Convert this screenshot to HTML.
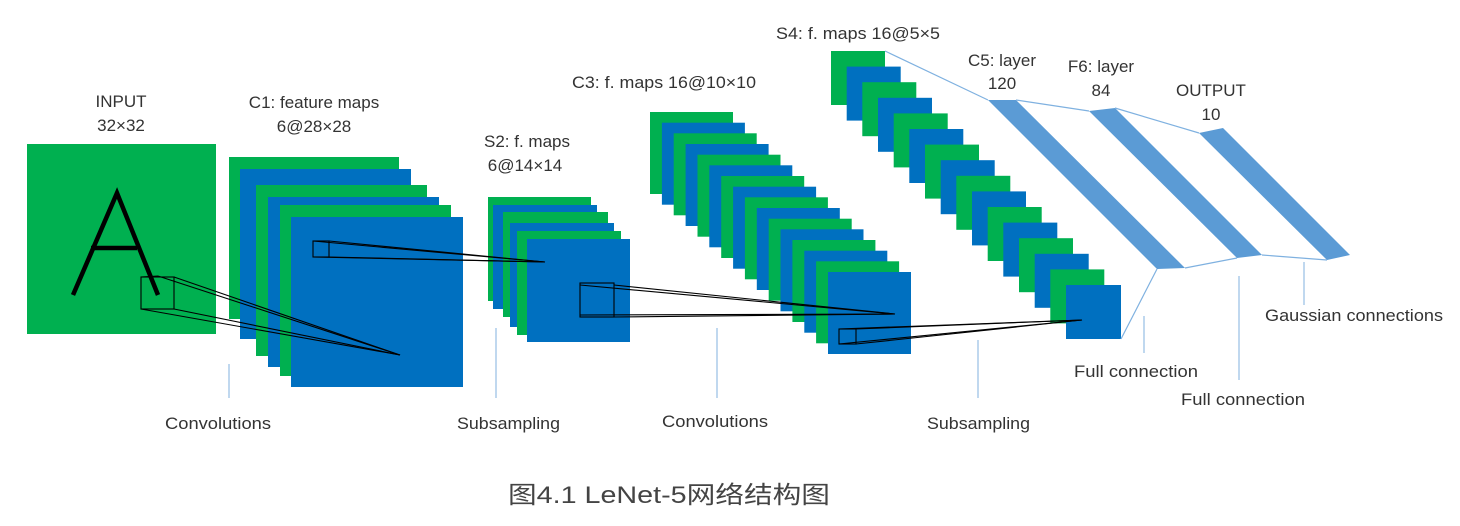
<!DOCTYPE html>
<html><head><meta charset="utf-8"><style>
html,body{margin:0;padding:0;background:#fff;}
svg{display:block;}
text{font-family:"Liberation Sans","Noto Sans CJK SC",sans-serif;fill:#333;font-size:16.5px;}
.c text{font-size:17px;}
</style></head><body>
<svg width="1460" height="526" viewBox="0 0 1460 526" xmlns="http://www.w3.org/2000/svg">
<rect x="27" y="144" width="189" height="190" fill="#00b050"/>
<g stroke="#000" stroke-width="4.5" fill="none">
<polyline points="73,295 117,193 158,295"/>
<line x1="91" y1="248" x2="137" y2="248"/>
</g>
<rect x="229" y="157" width="170" height="162" fill="#00b050"/>
<rect x="240" y="169" width="171" height="170" fill="#0070c0"/>
<rect x="256" y="185" width="171" height="171" fill="#00b050"/>
<rect x="268" y="197" width="171" height="170" fill="#0070c0"/>
<rect x="280" y="205" width="171" height="171" fill="#00b050"/>
<rect x="291" y="217" width="172" height="170" fill="#0070c0"/>
<rect x="488" y="197" width="103" height="104" fill="#00b050"/>
<rect x="493" y="205" width="104" height="104" fill="#0070c0"/>
<rect x="503" y="212" width="105" height="105" fill="#00b050"/>
<rect x="510" y="223" width="104" height="104" fill="#0070c0"/>
<rect x="517" y="231" width="104" height="104" fill="#00b050"/>
<rect x="527" y="239" width="103" height="103" fill="#0070c0"/>
<rect x="650.0" y="112.0" width="83" height="82" fill="#00b050"/>
<rect x="661.9" y="122.7" width="83" height="82" fill="#0070c0"/>
<rect x="673.7" y="133.3" width="83" height="82" fill="#00b050"/>
<rect x="685.6" y="144.0" width="83" height="82" fill="#0070c0"/>
<rect x="697.5" y="154.7" width="83" height="82" fill="#00b050"/>
<rect x="709.3" y="165.3" width="83" height="82" fill="#0070c0"/>
<rect x="721.2" y="176.0" width="83" height="82" fill="#00b050"/>
<rect x="733.1" y="186.7" width="83" height="82" fill="#0070c0"/>
<rect x="744.9" y="197.3" width="83" height="82" fill="#00b050"/>
<rect x="756.8" y="208.0" width="83" height="82" fill="#0070c0"/>
<rect x="768.7" y="218.7" width="83" height="82" fill="#00b050"/>
<rect x="780.5" y="229.3" width="83" height="82" fill="#0070c0"/>
<rect x="792.4" y="240.0" width="83" height="82" fill="#00b050"/>
<rect x="804.3" y="250.7" width="83" height="82" fill="#0070c0"/>
<rect x="816.1" y="261.3" width="83" height="82" fill="#00b050"/>
<rect x="828.0" y="272.0" width="83" height="82" fill="#0070c0"/>
<rect x="831.0" y="51.0" width="54" height="54" fill="#00b050"/>
<rect x="846.7" y="66.6" width="54" height="54" fill="#0070c0"/>
<rect x="862.3" y="82.2" width="54" height="54" fill="#00b050"/>
<rect x="878.0" y="97.8" width="54" height="54" fill="#0070c0"/>
<rect x="893.7" y="113.4" width="54" height="54" fill="#00b050"/>
<rect x="909.3" y="129.0" width="54" height="54" fill="#0070c0"/>
<rect x="925.0" y="144.6" width="54" height="54" fill="#00b050"/>
<rect x="940.7" y="160.2" width="54" height="54" fill="#0070c0"/>
<rect x="956.3" y="175.8" width="54" height="54" fill="#00b050"/>
<rect x="972.0" y="191.4" width="54" height="54" fill="#0070c0"/>
<rect x="987.7" y="207.0" width="54" height="54" fill="#00b050"/>
<rect x="1003.3" y="222.6" width="54" height="54" fill="#0070c0"/>
<rect x="1019.0" y="238.2" width="54" height="54" fill="#00b050"/>
<rect x="1034.7" y="253.8" width="54" height="54" fill="#0070c0"/>
<rect x="1050.3" y="269.4" width="54" height="54" fill="#00b050"/>
<rect x="1066.0" y="285.0" width="55" height="54" fill="#0070c0"/>
<g fill="#5b9bd5">
<polygon points="988,100 1016,100 1185,268 1157,269"/>
<polygon points="1089,111 1115,108 1262,255 1237,258"/>
<polygon points="1199,133 1223,128 1350,255 1327,260"/>
</g>
<g stroke="#7fb1e0" stroke-width="1.2" fill="none">
<line x1="885" y1="51" x2="988" y2="100"/>
<line x1="1016" y1="100" x2="1089" y2="111"/>
<line x1="1115" y1="108" x2="1199" y2="133"/>
<line x1="1121" y1="339" x2="1157" y2="269"/>
<line x1="1185" y1="268" x2="1237" y2="258"/>
<line x1="1262" y1="255" x2="1327" y2="260"/>
</g>
<g stroke="#9dc3e6" stroke-width="1.3">
<line x1="229" y1="364" x2="229" y2="398"/>
<line x1="496" y1="328" x2="496" y2="398"/>
<line x1="717" y1="328" x2="717" y2="398"/>
<line x1="978" y1="340" x2="978" y2="398"/>
<line x1="1144" y1="316" x2="1144" y2="353"/>
<line x1="1239" y1="276" x2="1239" y2="380"/>
<line x1="1304" y1="262" x2="1304" y2="305"/>
</g>
<g stroke="#000" stroke-width="1.1" fill="none">
<rect x="141" y="277" width="33" height="32"/>
<line x1="141" y1="277" x2="158" y2="276"/>
<line x1="174" y1="277" x2="400" y2="355"/>
<line x1="158" y1="276" x2="400" y2="355"/>
<line x1="141" y1="309" x2="400" y2="355"/>
<line x1="174" y1="309" x2="400" y2="355"/>
<rect x="313" y="241" width="16" height="16"/>
<line x1="313" y1="241" x2="545" y2="262"/>
<line x1="329" y1="241" x2="545" y2="262"/>
<line x1="313" y1="257" x2="545" y2="262"/>
<line x1="329" y1="257" x2="545" y2="262"/>
<rect x="580" y="283" width="34" height="34"/>
<line x1="580" y1="285" x2="895" y2="314"/>
<line x1="614" y1="285" x2="895" y2="314"/>
<line x1="580" y1="315" x2="895" y2="314"/>
<line x1="614" y1="317" x2="895" y2="314"/>
<rect x="839" y="329" width="17" height="15"/>
<line x1="839" y1="329" x2="1082" y2="320"/>
<line x1="856" y1="329" x2="1082" y2="320"/>
<line x1="839" y1="344" x2="1082" y2="320"/>
<line x1="856" y1="344" x2="1082" y2="320"/>
</g>
<g text-anchor="middle" class="c">
<text x="121" y="107">INPUT</text>
<text x="121" y="131">32×32</text>
<text x="314" y="108">C1: feature maps</text>
<text x="314" y="132">6@28×28</text>
<text x="527" y="147">S2: f. maps</text>
<text x="525" y="171">6@14×14</text>
<text x="1002" y="66">C5: layer</text>
<text x="1002" y="89">120</text>
<text x="1101" y="72">F6: layer</text>
<text x="1101" y="96">84</text>
<text x="1211" y="96">OUTPUT</text>
<text x="1211" y="120">10</text>
</g>
<text x="572" y="88" textLength="184" lengthAdjust="spacingAndGlyphs">C3: f. maps 16@10×10</text>
<text x="776" y="39" textLength="164" lengthAdjust="spacingAndGlyphs">S4: f. maps 16@5×5</text>
<text x="165" y="429" textLength="106" lengthAdjust="spacingAndGlyphs">Convolutions</text>
<text x="457" y="429" textLength="103" lengthAdjust="spacingAndGlyphs">Subsampling</text>
<text x="662" y="427" textLength="106" lengthAdjust="spacingAndGlyphs">Convolutions</text>
<text x="927" y="429" textLength="103" lengthAdjust="spacingAndGlyphs">Subsampling</text>
<text x="1074" y="377" textLength="124" lengthAdjust="spacingAndGlyphs">Full connection</text>
<text x="1181" y="405" textLength="124" lengthAdjust="spacingAndGlyphs">Full connection</text>
<text x="1265" y="321" textLength="178" lengthAdjust="spacingAndGlyphs">Gaussian connections</text>
<text x="508" y="503" style="font-size:24px;fill:#444" textLength="322" lengthAdjust="spacingAndGlyphs">图4.1 LeNet-5网络结构图</text>
</svg>
</body></html>
